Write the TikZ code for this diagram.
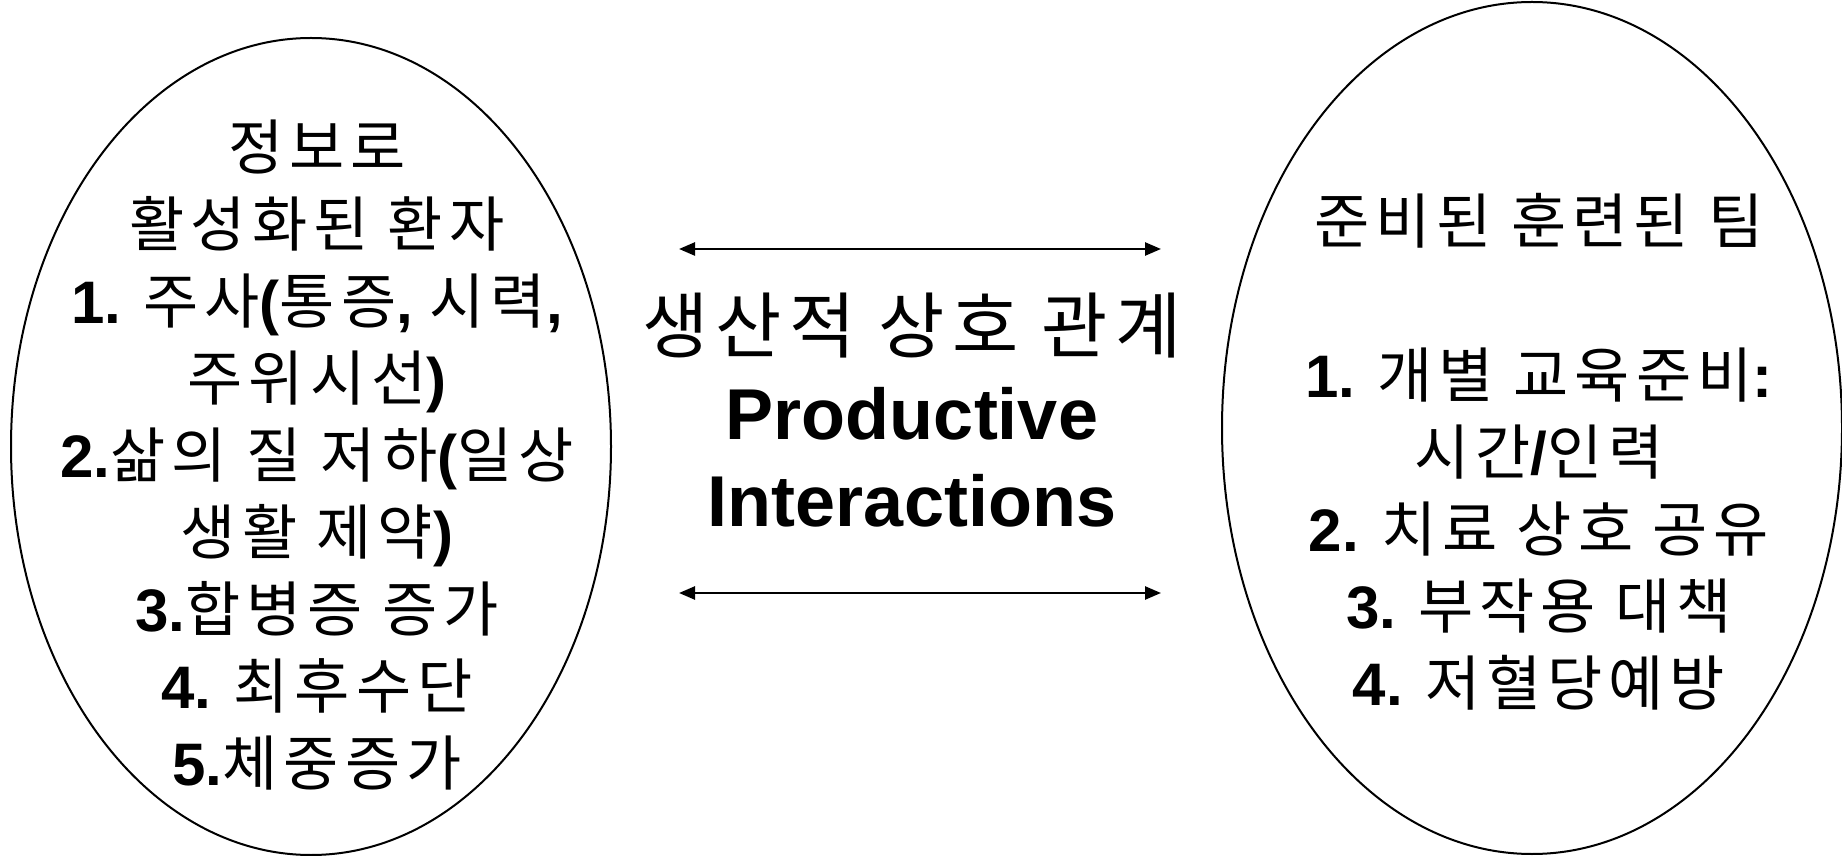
\documentclass[tikz,border=0pt]{standalone}
\usepackage{fontspec}
\setmainfont{Liberation Sans}
\newfontfamily\kfont{Noto Sans CJK KR}[LetterSpace=10]
\usetikzlibrary{arrows.meta,shapes.geometric}
\newcommand\kor[1]{{\kfont\mdseries #1}}
\tikzset{
  oval/.style={draw=black, line width=2pt, ellipse, inner sep=0pt},
  sidetext/.style={align=center, font=\fontsize{60}{77}\selectfont\bfseries},
  midtext/.style={align=center, font=\fontsize{72}{87}\selectfont\bfseries},
  dblarrow/.style={line width=2.5pt, {Triangle[length=16pt,width=13pt]}-{Triangle[length=16pt,width=13pt]}}
}
\begin{document}
\begin{tikzpicture}[x=1pt,y=1pt]
\useasboundingbox (0,0) rectangle (1842,855);
\node[oval, minimum width=600pt, minimum height=817pt] (lov) at (311,408.5) {};
\node[oval, minimum width=620pt, minimum height=852pt] (rov) at (1532,427) {};
\node[sidetext] (ltext) at (317,400) {\kor{정보로}\\
\kor{활성화된 환자}\\
1. \kor{주사}(\kor{통증}, \kor{시력},\\
\kor{주위시선})\\
2.\kor{삶의 질 저하}(\kor{일상}\\
\kor{생활 제약})\\
3.\kor{합병증 증가}\\
4. \kor{최후수단}\\
5.\kor{체중증가}};
\node[sidetext] (rtext) at (1539,403) {\kor{준비된 훈련된 팀}\\
\mbox{}\\
1. \kor{개별 교육준비}:\\
\kor{시간}/\kor{인력}\\
2. \kor{치료 상호 공유}\\
3. \kor{부작용 대책}\\
4. \kor{저혈당예방}};
\node[midtext] (mtext) at (912,445) {\kor{생산적 상호 관계}\\
Productive\\
Interactions};
\coordinate (a1l) at (679,606);
\coordinate (a1r) at (1161,606);
\coordinate (a2l) at (679,262);
\coordinate (a2r) at (1161,262);
\draw[dblarrow] (a1l) -- (a1r);
\draw[dblarrow] (a2l) -- (a2r);
\end{tikzpicture}
\end{document}
